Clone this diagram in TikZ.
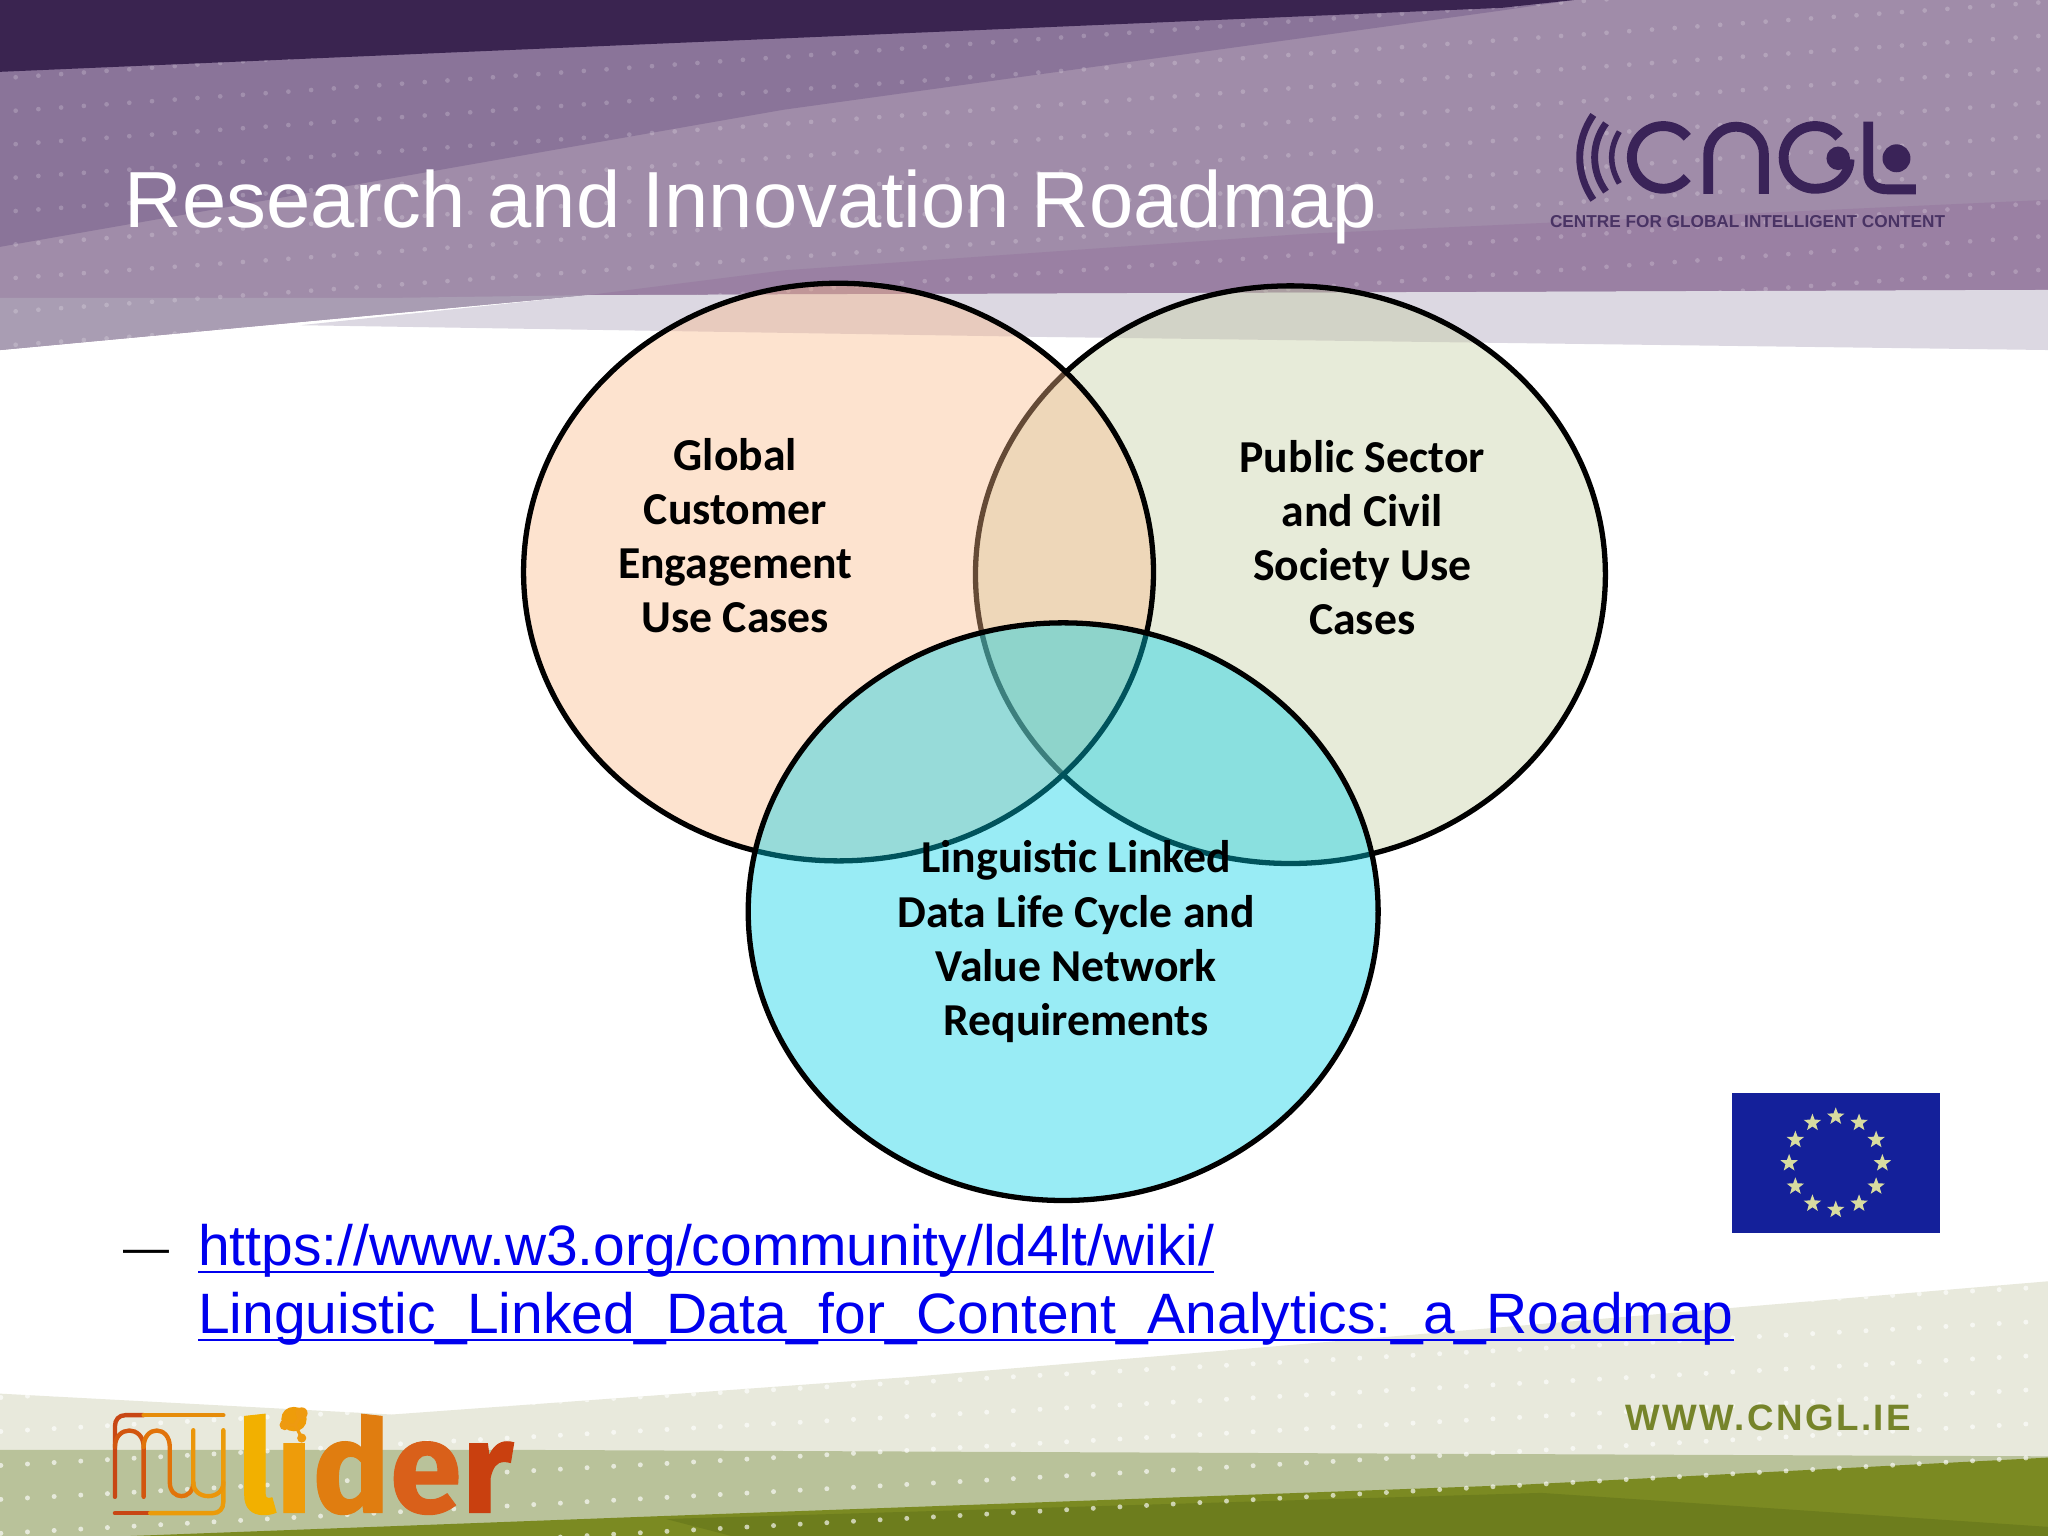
\documentclass[tikz,border=0pt]{standalone}
\usepackage{fontspec}
\usepackage{xcolor}
\usepackage{tikz}
\usetikzlibrary{positioning,calc,shapes.geometric}
\newfontfamily\arialfont{Liberation Sans}
\newfontfamily\venfont{Carlito}
\newfontfamily\spacedfont[LetterSpace=6.5]{Liberation Sans}
\newfontfamily\liderfont[BoldFeatures={FakeBold=0.8}]{Fira Sans}
\definecolor{pdark}{HTML}{3A2450}
\definecolor{pmid}{HTML}{8A7499}
\definecolor{plight}{HTML}{A08CA9}
\definecolor{pdeep}{HTML}{9A80A3}
\definecolor{ppale}{HTML}{DCD8E2}
\definecolor{pstrip}{HTML}{A99DB3}
\definecolor{logoink}{HTML}{3A2358}
\definecolor{gpale}{HTML}{E8E9DC}
\definecolor{gmid}{HTML}{B9C29A}
\definecolor{golive}{HTML}{7B8A22}
\definecolor{gdeep}{HTML}{6D7D1D}
\definecolor{gtext}{HTML}{76842A}
\definecolor{vorange}{HTML}{FAB989}
\definecolor{vgreen}{HTML}{C5CDA0}
\definecolor{vcyan}{HTML}{00D0E8}
\definecolor{linkblue}{HTML}{0000EE}
\definecolor{flagblue}{HTML}{14209A}
\definecolor{flagstar}{HTML}{D8DCA0}
\definecolor{molecule}{HTML}{EE9A10}
\newcommand{\linkrule}[1]{\leavevmode\setbox0\hbox{#1}\rlap{\copy0}\rule[-1.7pt]{\wd0}{0.55pt}}

\begin{document}
\begin{tikzpicture}[x=0.01cm, y=-0.01cm,
  vensetshape/.style={ellipse, draw=black, line width=1.15pt, fill opacity=0.4, text opacity=1, inner sep=0pt, minimum width=4.82cm, minimum height=4.42cm},
  venlabel/.style={font=\venfont\bfseries\fontsize{9.95}{11.8}\selectfont, text=black, align=center},
  linkline/.style={font=\arialfont\fontsize{12.4}{14.8}\selectfont, text=linkblue, anchor=base west, inner sep=0pt},
  wave/.style={logoink, line width=1.5pt},
  glyph/.style={logoink, line width=2.15pt},
  mystroke/.style={line width=0.95pt, line cap=round},
  flagstarshape/.style={star, star points=5, star point ratio=2.4, fill=flagstar, inner sep=0pt, minimum size=0.14cm},
]
\useasboundingbox (0,0) rectangle (1568,1176);
\fill[white] (0,0) rectangle (1568,1176);

% Purple bands at top
\fill[plight] (0,0) -- (1568,0) -- (1568,222) -- (450,226) -- (0,268) -- cycle;
\fill[pdeep] (1568,153) -- (1000,179) -- (600,207) -- (450,226) -- (1568,222) -- cycle;
\fill[pstrip] (0,228) -- (306,228) -- (450,226) -- (0,268) -- cycle;
\fill[pmid] (0,40) -- (1205,0) -- (1150,8) -- (600,84) -- (0,189) -- cycle;
\fill[ppale] (230,249) -- (450,226) -- (1568,222) -- (1568,268) -- (800,258) -- cycle;

% Green bands at bottom
\fill[gpale] (0,1067) -- (300,1083) -- (700,1054) -- (1568,981) -- (1568,1176) -- (0,1176) -- cycle;
\fill[gmid] (0,1110) -- (380,1110) -- (1568,1115) -- (1568,1176) -- (0,1176) -- cycle;
\fill[golive] (1568,1116) -- (1160,1137) -- (500,1161) -- (100,1176) -- (1568,1176) -- cycle;
\fill[gdeep] (510,1163) -- (1180,1143) -- (1568,1169) -- (1568,1176) -- (560,1176) -- cycle;

% Dot rasters clipped to the bands
\begin{scope}
  \clip (0,268) -- (450,226) -- (1568,222) -- (1568,0) -- (1205,0) -- (0,55) -- cycle;
  \fill[white, opacity=0.2] \foreach \r in {0,...,14} {
    \foreach \c in {0,...,90} {
      ({12+\c*17.4},{60+\r*25.6-0.07*(12+\c*17.4)}) circle (1.8)
    }
  };
\end{scope}
\begin{scope}
  \clip (0,1067) -- (300,1083) -- (700,1054) -- (1568,981) -- (1568,1176) -- (0,1176) -- cycle;
  \fill[white, opacity=0.65] \foreach \r in {0,...,9} {
    \foreach \c in {0,...,77} {
      ({0.65+\c*20.4},{1200+\r*26-234-0.054*(0.65+\c*20.4)}) circle (1.9)
    }
  };
\end{scope}
\fill[pdark] (0,0) -- (1205,0) -- (1150,6) -- (350,40) -- (0,55) -- cycle;

% Title
\node[font=\arialfont\fontsize{17.33}{20}\selectfont, text=white, anchor=base west, inner sep=0pt] (title) at (95,174) {Research and Innovation Roadmap};

% CNGL logo
\draw[wave] (1219.9,88) .. controls (1206,108) and (1206,133) .. (1219.9,153);
\draw[wave] (1229.6,94.4) .. controls (1218,110) and (1218,131) .. (1229.6,146.7);
\draw[wave, line width=1.2pt] (1239.8,100.8) .. controls (1232,114) and (1232,127) .. (1239.8,140.4);
\draw[glyph] (1291.8,105.1) arc[start angle=-40, end angle=-320, radius=24];
\draw[glyph] (1307.9,148.5) -- (1307.9,118.3) arc[start angle=180, end angle=360, radius=21.3] -- (1350.5,148.5);
\draw[glyph] (1408,105.1) arc[start angle=-40, end angle=-270, radius=24] .. controls (1405,144.5) and (1416,135) .. (1416,122);
\fill[logoink] (1407.4,121.2) circle (9);
\draw[glyph] (1430.4,93.2) -- (1430.4,132.7) .. controls (1430.4,141) and (1436,145) .. (1445.7,145) -- (1466.9,145);
\fill[logoink] (1452,121.2) circle (10.7);
\node[font=\arialfont\bfseries\fontsize{3.75}{4}\selectfont, text=logoink!85!plight, inner sep=0pt] (centre) at (1338,170) {CENTRE FOR GLOBAL INTELLIGENT CONTENT};

% Three sets, green first so that orange lies over it
\node[vensetshape, fill=vgreen] (pub) at (988,440) {};
\node[vensetshape, fill=vorange] (glo) at (642,438) {};
\node[vensetshape, fill=vcyan] (lld) at (814,698) {};

% Labels of the sets
\node[venlabel] (glolab) at (563,410) {Global\\Customer\\Engagement\\Use Cases};
\node[venlabel] (publab) at (1043,411.5) {Public Sector\\and Civil\\Society Use\\Cases};
\node[venlabel] (lldlab) at (824,721) {Linguistic Linked\\Data Life Cycle and\\Value Network\\Requirements};

% EU flag
\node[fill=flagblue, minimum width=1.59cm, minimum height=1.07cm, inner sep=0pt] (flag) at (1405.5,890.5) {};
\foreach \a in {0,30,...,330} {
  \node[flagstarshape] (star\a) at ($(flag.center)+(\a:35.7)$) {};
}

% Link
\node[font=\arialfont\fontsize{10}{12}\selectfont, text=black, anchor=base west, inner sep=0pt] (bullet) at (94,967) {\textemdash};
\node[linkline] (linka) at (151,969) {\linkrule{https://www.w3.org/community/ld4lt/wiki/}};
\node[linkline] (linkb) at (151,1021) {\linkrule{Linguistic\_Linked\_Data\_for\_Content\_Analytics:\_a\_Roadmap}};

% Web address
\node[font=\spacedfont\bfseries\fontsize{8}{9}\selectfont, text=gtext, anchor=base west, inner sep=0pt] (web) at (1244,1095) {WWW.CNGL.IE};

% myLider logo
\draw[mystroke, color={rgb,255:red,200;green,70;blue,20}] (110,1083.5) -- (96,1083.5) .. controls (91,1083.5) and (88,1087) .. (88,1092) -- (88,1146);
\draw[mystroke, color={rgb,255:red,230;green,140;blue,10}] (110,1083.5) -- (171,1083.5);
\draw[mystroke, color={rgb,255:red,200;green,70;blue,20}] (88,1158.5) -- (115,1158.5);
\draw[mystroke, color={rgb,255:red,235;green,155;blue,10}] (115,1158.5) -- (163,1158.5) .. controls (168,1158.5) and (171,1155) .. (171,1150) -- (171,1095);
\draw[mystroke, color={rgb,255:red,210;green,85;blue,15}] (88,1108) .. controls (88,1091) and (110,1091) .. (110,1108) -- (110,1146);
\draw[mystroke, color={rgb,255:red,225;green,115;blue,10}] (110,1108) .. controls (110,1091) and (130,1091) .. (130,1108) -- (130,1135) .. controls (130,1149) and (148,1149) .. (148,1135);
\draw[mystroke, color={rgb,255:red,235;green,150;blue,10}] (148,1095) -- (148,1135) .. controls (148,1149) and (171,1149) .. (171,1135);
\node[font=\liderfont\bfseries\fontsize{28.2}{30}\selectfont, anchor=base west, inner sep=0pt] (lider) at (181,1158) {\textcolor[HTML]{F2B000}{l}\textcolor[HTML]{EE9C0A}{i}\textcolor[HTML]{E07D10}{d}\textcolor[HTML]{D9601A}{e}\textcolor[HTML]{C9400F}{r}};
\draw[molecule, line width=0.7pt] (231,1082) -- (226,1091) -- (218,1091) (226,1091) -- (231,1101);
\fill[molecule] (231,1082) circle (4.5) (218,1091) circle (4) (231,1101) circle (3.5);
\end{tikzpicture}
\end{document}
